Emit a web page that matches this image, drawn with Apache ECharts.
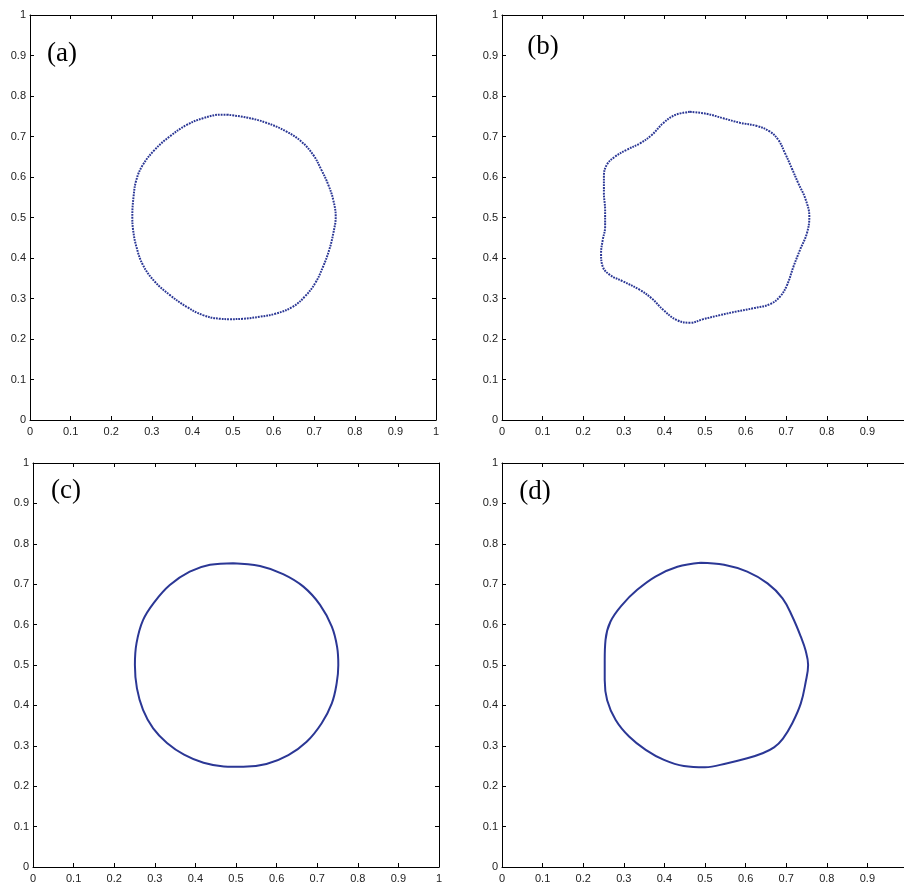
<!DOCTYPE html>
<html lang="en">
  <head>
    <meta charset="UTF-8" />
    <title>Interface shapes (a)-(d)</title>
    <script src="https://cdn.jsdelivr.net/npm/echarts@6/dist/echarts.min.js"></script>
    <style>
      html, body { margin: 0; padding: 0; background: #fff; }
      #main { width: 904px; height: 883px; }
    </style>
  </head>
  <body>
    <div id="main"></div>

    <script>
      // curve points, one x / y list per panel
      const aX = [0.485, 0.533, 0.582, 0.632, 0.669, 0.698, 0.718, 0.735, 0.747, 0.753, 0.747, 0.737, 0.722, 0.702, 0.677, 0.648, 0.607, 0.566, 0.525, 0.492, 0.467, 0.426, 0.385, 0.344, 0.307, 0.278, 0.262, 0.254, 0.252, 0.255, 0.262, 0.278, 0.307, 0.344, 0.385, 0.426, 0.472];
      const aY = [0.754, 0.747, 0.734, 0.712, 0.687, 0.654, 0.617, 0.580, 0.543, 0.502, 0.461, 0.420, 0.379, 0.337, 0.305, 0.280, 0.263, 0.255, 0.250, 0.249, 0.250, 0.259, 0.280, 0.309, 0.342, 0.383, 0.428, 0.469, 0.502, 0.551, 0.593, 0.630, 0.667, 0.700, 0.728, 0.745, 0.754];

      const bX = [0.463, 0.504, 0.545, 0.586, 0.628, 0.660, 0.681, 0.697, 0.714, 0.730, 0.747, 0.757, 0.751, 0.734, 0.718, 0.702, 0.685, 0.660, 0.619, 0.578, 0.537, 0.496, 0.463, 0.430, 0.397, 0.369, 0.340, 0.299, 0.266, 0.248, 0.244, 0.248, 0.254, 0.254, 0.251, 0.251, 0.258, 0.278, 0.307, 0.340, 0.369, 0.397, 0.426];
      const bY = [0.761, 0.756, 0.745, 0.734, 0.726, 0.712, 0.691, 0.659, 0.621, 0.584, 0.547, 0.502, 0.461, 0.420, 0.379, 0.333, 0.305, 0.286, 0.276, 0.268, 0.259, 0.249, 0.240, 0.247, 0.272, 0.300, 0.321, 0.342, 0.358, 0.379, 0.412, 0.444, 0.477, 0.519, 0.560, 0.601, 0.630, 0.650, 0.667, 0.683, 0.704, 0.733, 0.753];

      const cX = [0.493, 0.559, 0.616, 0.666, 0.707, 0.736, 0.749, 0.752, 0.748, 0.736, 0.711, 0.674, 0.629, 0.575, 0.518, 0.470, 0.420, 0.372, 0.330, 0.296, 0.271, 0.256, 0.251, 0.255, 0.271, 0.300, 0.337, 0.386, 0.436];
      const cY = [0.752, 0.745, 0.725, 0.694, 0.649, 0.595, 0.545, 0.500, 0.455, 0.405, 0.356, 0.310, 0.277, 0.255, 0.248, 0.249, 0.258, 0.278, 0.307, 0.343, 0.389, 0.442, 0.500, 0.554, 0.611, 0.657, 0.698, 0.731, 0.748];

      const dX = [0.489, 0.547, 0.604, 0.654, 0.691, 0.715, 0.736, 0.748, 0.754, 0.748, 0.736, 0.715, 0.692, 0.670, 0.640, 0.604, 0.555, 0.500, 0.448, 0.399, 0.354, 0.313, 0.280, 0.259, 0.253, 0.253, 0.255, 0.267, 0.296, 0.333, 0.378, 0.432];
      const dY = [0.753, 0.748, 0.731, 0.702, 0.665, 0.620, 0.570, 0.535, 0.500, 0.458, 0.405, 0.356, 0.318, 0.296, 0.281, 0.269, 0.257, 0.247, 0.250, 0.265, 0.290, 0.323, 0.364, 0.413, 0.463, 0.512, 0.562, 0.607, 0.649, 0.686, 0.719, 0.743];

      const tickValues = [0, 0.1, 0.2, 0.3, 0.4, 0.5, 0.6, 0.7, 0.8, 0.9, 1];
      const panelNames = ['(a)', '(b)', '(c)', '(d)'];

      const grids = [
        { left: 30, top: 15, width: 406, height: 405, outerBoundsMode: 'none' },
        { left: 502, top: 15, width: 406, height: 405, outerBoundsMode: 'none' },
        { left: 33, top: 463, width: 406, height: 404, outerBoundsMode: 'none' },
        { left: 502, top: 463, width: 406, height: 404, outerBoundsMode: 'none' },
      ];
      const labelPos = [[62, 54], [543, 47], [66, 491], [535, 492]];

      const curveColor = '#2b3795';

      function loop(xs, ys) {
        const pts = xs.map((x, i) => [x, ys[i]]);
        pts.push(pts[0]);
        return pts;
      }

      function axis(i, pos, showLabel) {
        return {
          type: 'value',
          gridIndex: i,
          position: pos,
          min: 0,
          max: 1,
          interval: 0.1,
          axisLine: { show: true, onZero: false, lineStyle: { color: '#000', width: 1 } },
          axisTick: { show: true, inside: true, length: 4, lineStyle: { color: '#000' } },
          splitLine: { show: false },
          axisLabel: {
            show: showLabel,
            color: '#222',
            fontFamily: 'Liberation Sans',
            fontSize: 11,
            margin: pos === 'bottom' ? 6 : 4,
            formatter: (v) => String(tickValues[Math.round(v * 10)]),
          },
        };
      }

      const xAxis = [], yAxis = [];
      for (let i = 0; i < 4; i++) {
        xAxis.push(axis(i, 'bottom', true));
        yAxis.push(axis(i, 'left', true));
      }
      for (let i = 0; i < 4; i++) {
        xAxis.push(axis(i, 'top', false));
        yAxis.push(axis(i, 'right', false));
      }

      const dotted = { color: curveColor, width: 2, type: [1.8, 1] };
      const solid = { color: curveColor, width: 2 };
      const curves = [
        { data: loop(aX, aY), style: dotted },
        { data: loop(bX, bY), style: dotted },
        { data: loop(cX, cY), style: solid },
        { data: loop(dX, dY), style: solid },
      ];

      const series = curves.map((c, i) => ({
        type: 'line',
        xAxisIndex: i,
        yAxisIndex: i,
        data: c.data,
        smooth: 0.4,
        showSymbol: false,
        symbol: 'none',
        lineStyle: c.style,
        animation: false,
      }));

      const graphic = panelNames.map((t, i) => ({
        type: 'text',
        x: labelPos[i][0],
        y: labelPos[i][1],
        style: {
          text: t,
          font: '27px "Liberation Serif"',
          fill: '#000',
          align: 'center',
          verticalAlign: 'middle',
        },
      }));

      const options = {
        backgroundColor: '#fff',
        animation: false,
        grid: grids,
        xAxis: xAxis,
        yAxis: yAxis,
        series: series,
        graphic: graphic,
      };

      var myChart = echarts.init(document.querySelector('#main'));
      myChart.setOption(options);
    </script>
  </body>
</html>
